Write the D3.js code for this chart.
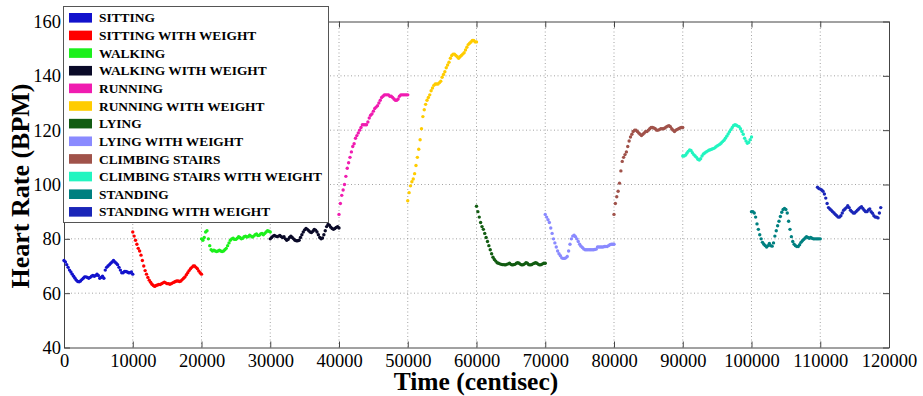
<!DOCTYPE html>
<html>
<head>
<meta charset="utf-8">
<script src="https://cdn.jsdelivr.net/npm/d3@7"></script>
<style>
  html, body { margin: 0; padding: 0; background: #fff; }
  svg { display: block; }
</style>
</head>
<body>
<div id="chart"></div>
<script>
// Activity labels and colours (legend order)
const activities = [
  'SITTING', 'SITTING WITH WEIGHT', 'WALKING', 'WALKING WITH WEIGHT',
  'RUNNING', 'RUNNING WITH WEIGHT', 'LYING', 'LYING WITH WEIGHT',
  'CLIMBING STAIRS', 'CLIMBING STAIRS WITH WEIGHT', 'STANDING', 'STANDING WITH WEIGHT'
];
const colors = [
  '#1212cc', '#ff0000', '#1cf01c', '#0a0a28',
  '#f01cb0', '#ffcc00', '#125c12', '#8a8aff',
  '#a0524a', '#22f5c0', '#008080', '#1a26b8'
];
// start time of each recording (centisec), samples every 200 cs
const startTimes = [0, 10000, 20000, 30000, 40000, 50000, 60000, 70000, 80000, 90000, 100000, 109600];
const SAMPLE_STEP = 200;

// heart rate readings (BPM)
const sitting = [72,71.5,70.5,69.5,68.5,67.8,67,66.2,65.5,64.8,64.3,64.2,64.5,65,65.5,66,66,65.8,65.5,65.8,
  66.2,66.5,66.2,66.5,67,66.5,65.5,65.8,66.2,65.5,68.5,69.5,70,70.5,71,71.5,72,71.5,71,70.5,
  69.5,68.5,67.5,67.5,68,68,67.8,67.5,67.5,67.8,67];
const sittingWeight = [82.5,81,79.5,78,76.5,75.5,74,72,70,68.3,67,65.8,64.8,64,63.3,62.8,62.5,62.8,63,63.2,
  63.2,63.5,63.8,64,63.8,63.5,63.5,63.3,63.5,63.8,64,64.3,64.5,64.5,64.3,64.5,65,65.5,66,66.8,
  67.5,68.3,69,69.5,70,70,69.5,69,68.2,67.5,67];
const walking = [80,79.5,80.5,82.5,83,80,77.5,76,75.5,75.8,75.5,75.3,75.5,75.8,75.5,75.3,75.5,76,76.5,77.5,
  78.5,79.5,80,80.2,79.8,79.8,80.2,80.8,80.5,80,80.2,80.8,81,80.7,80.8,81.3,81,80.7,81,81.5,
  81.8,81.2,81.3,81.8,82,81.5,82,82.5,83,82.8,82.5];
const walkingWeight = [80,80.5,81,81.2,81,80.8,81,81.2,80.8,80.5,80.8,80,79.5,79.8,80.5,81,80.5,80,79.5,79.3,
  79.3,79.5,80.5,81.5,82.5,83.3,83.8,83.5,83,82.5,82.3,82.8,83.5,83.2,82.5,81.5,80.5,80,80.3,81.5,
  83,84.5,85.3,85,84.3,83.8,83.5,83.8,84.2,84.5,84];
const running = [89,93,96,98,100,103,106,108,110,112,114,115,117,118,119,120,121,122,122,122,
  122,123,124.5,125.5,126,127,128,128.5,129,130,131,132,132.5,133,133,133,133,132.5,132.5,132,
  131.5,131,131,131.5,132.5,133,133,133,133,133,133];
const runningWeight = [94,97,99.5,101,102,104,107,110,113,116.5,120.5,125,127.5,129.5,131,132,133,134.5,135.5,136.5,
  137,137,137,137.5,138,139.5,140.5,141.5,143,144,145,146.5,147.5,148,148,147.5,147,146.5,147,147.5,
  148,148.5,149.5,150.5,151.5,152,152.5,153,153,152.5,152.5];
const lying = [92,90,88,86,84.5,83.5,82,80.5,79,77.5,76,74.5,73.2,72.4,71.8,71.2,71,70.8,70.6,70.5,
  70.5,70.4,70.6,70.8,71,70.6,70.4,70.5,70.6,71,71.2,71,70.6,70.4,70.5,70.8,71.2,71,70.5,70.4,
  70.5,70.8,71,71.2,71,70.6,70.4,70.5,70.8,71,71];
const lyingWeight = [89,88,87,86,84,82,80,78.5,77,75.5,74.5,73.8,73,72.8,72.8,73,73.5,75.5,78,80,
  81,81.3,80.8,80,79,78,77.3,76.8,76.3,76,76,76,76,76,76,76,76.1,76.2,77,77,
  77,77,77,77.2,77.2,77.2,77.5,77.8,78,78,78];
const climbing = [89,93,95.5,97.5,100.5,105,108.5,110,111,112,114,116,117.5,118.5,119.5,120,120,119.5,119,118.5,
  118,118.5,119,119.5,119.5,120,120.5,121,121,120.8,120.5,120,120,120.2,120.5,120.5,120.5,120.8,121.2,121.5,
  121.6,121.3,120.5,120,119.5,120,120.3,120.5,120.8,121,121];
const climbingWeight = [110.5,110.5,110.8,111.5,112.2,112.7,112.5,111.7,111,110.5,110,109.3,109,109.5,110.5,111.2,111.6,112,112.3,112.6,
  112.8,113,113.2,113.4,113.8,114.2,114.5,114.8,115.3,115.8,116.3,117,117.8,118.6,119.4,120.2,121,121.7,122,121.8,
  121.5,121.3,120.5,119.5,118.5,117,116,115.2,115.5,116.5,117.5];
const standing = [90,90,89.5,88,85.5,83.5,81.5,80,78.7,78,77.5,77,77.5,78.3,77.5,77.3,78.5,81,83,84.8,
  86.5,88.2,89.8,90.8,91.2,90.8,89.5,86.5,83.5,80.8,79,78,77.5,77.2,77.2,77.8,78.7,79.3,79.8,80.3,
  80.8,80.5,80.2,80.5,80.2,80,80,80,80,80,80];
const standingWeight = [99,98.5,98.3,98,97.5,96.5,95,93,91.5,91,90.5,90,89.5,89,88.5,88,88,88.5,89.5,90.5,
  91,91.5,92.2,91.5,90.5,90,89.5,89.5,90,90.5,91,91.5,91.8,91.2,90.5,90,90,90.6,91,90,
  89.4,88.5,88,88,87.7,89.5,91.5];

const seriesValues = [sitting, sittingWeight, walking, walkingWeight, running, runningWeight,
  lying, lyingWeight, climbing, climbingWeight, standing, standingWeight];

const xTicks = d3.range(0, 120001, 10000);
const yTicks = [40, 60, 80, 100, 120, 140, 160];

const W = 923, H = 396;
const margin = { left: 64, right: 34, top: 21.5, bottom: 48.5 };
const FONT = '"Liberation Serif", "Times New Roman", serif';

const series = activities.map((name, i) => ({
  name,
  color: colors[i],
  points: seriesValues[i].map((v, j) => ({ t: startTimes[i] + j * SAMPLE_STEP, v }))
}));

const svg = d3.select('#chart').append('svg')
  .attr('width', W).attr('height', H)
  .style('background', '#fff');

const x = d3.scaleLinear().domain([0, 120000]).range([margin.left, W - margin.right]);
const y = d3.scaleLinear().domain([40, 160]).range([H - margin.bottom, margin.top]);

// grid
const grid = svg.append('g').attr('stroke', '#8c8c8c').attr('stroke-width', 0.8)
  .attr('stroke-dasharray', '1,2.5');
grid.selectAll('.gx').data(xTicks.slice(1, -1)).enter().append('line')
  .attr('x1', d => x(d)).attr('x2', d => x(d))
  .attr('y1', y(40)).attr('y2', y(160));
grid.selectAll('.gy').data(yTicks.slice(1, -1)).enter().append('line')
  .attr('x1', x(0)).attr('x2', x(120000))
  .attr('y1', d => y(d)).attr('y2', d => y(d));

// axes
svg.append('g')
  .attr('transform', `translate(0,${y(40)})`)
  .call(d3.axisBottom(x).tickValues(xTicks).tickFormat(d3.format('d'))
    .tickSizeInner(-6).tickSizeOuter(0).tickPadding(6.5));
svg.append('g')
  .attr('transform', `translate(${x(0)},0)`)
  .call(d3.axisLeft(y).tickValues(yTicks).tickSizeInner(-6).tickSizeOuter(0).tickPadding(3));
svg.append('g').attr('transform', `translate(0,${y(160)})`)
  .call(d3.axisTop(x).tickValues(xTicks).tickFormat('').tickSizeInner(-6).tickSizeOuter(0));
svg.append('g').attr('transform', `translate(${x(120000)},0)`)
  .call(d3.axisRight(y).tickValues(yTicks).tickFormat('').tickSizeInner(-6).tickSizeOuter(0));

svg.selectAll('.domain').attr('stroke', '#444');
svg.selectAll('.tick line').attr('stroke', '#444');
svg.selectAll('.tick text')
  .style('font-family', FONT).style('font-size', '18.5px').attr('fill', '#000');

// dots
series.forEach(s => {
  svg.append('g').attr('fill', s.color)
    .selectAll('circle').data(s.points).enter().append('circle')
    .attr('cx', d => x(d.t)).attr('cy', d => y(d.v)).attr('r', 1.7);
});

// axis titles
svg.append('text')
  .attr('x', 476).attr('y', 390)
  .attr('text-anchor', 'middle')
  .style('font-family', FONT).style('font-size', '25.5px').style('font-weight', 'bold')
  .text('Time (centisec)');
svg.append('text')
  .attr('transform', 'translate(29,186) rotate(-90)')
  .attr('text-anchor', 'middle')
  .style('font-family', FONT).style('font-size', '26px').style('font-weight', 'bold')
  .text('Heart Rate (BPM)');

// legend
const legend = svg.append('g');
legend.append('rect')
  .attr('x', 63.5).attr('y', 6.5).attr('width', 265).attr('height', 216)
  .attr('fill', '#fff').attr('stroke', '#555').attr('stroke-width', 1);
const ROW = 17.64;
const rows = legend.selectAll('.row').data(series).enter().append('g')
  .attr('transform', (d, i) => `translate(0,${17.8 + i * ROW})`);
rows.append('rect')
  .attr('x', 69).attr('y', -4.8).attr('width', 23).attr('height', 9.6)
  .attr('fill', d => d.color);
rows.append('text')
  .attr('x', 99).attr('y', 4.6)
  .style('font-family', FONT).style('font-size', '13.4px').style('font-weight', 'bold')
  .text(d => d.name);
</script>
</body>
</html>
